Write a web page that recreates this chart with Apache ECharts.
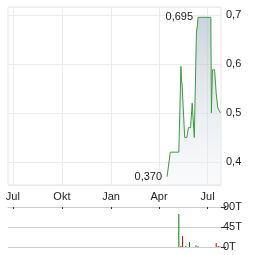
<!DOCTYPE html>
<html><head><meta charset="utf-8">
<script src="https://cdn.jsdelivr.net/npm/echarts@6/dist/echarts.min.js"></script>
<style>html,body{margin:0;padding:0;background:#fff}#c{width:264px;height:255px}</style>
</head><body><div id="c"></div>
<script>
const priceDates = ['2025-04-16','2025-04-18','2025-04-22','2025-05-08','2025-05-12','2025-05-13','2025-05-14','2025-05-19','2025-05-23','2025-05-26','2025-05-30','2025-06-02','2025-06-05','2025-06-06','2025-06-10','2025-06-12','2025-06-13','2025-07-07','2025-07-08','2025-07-10','2025-07-14','2025-07-17','2025-07-20','2025-07-23','2025-07-25'];
const priceValues = [0.37,0.37,0.42,0.42,0.595,0.565,0.56,0.45,0.45,0.47,0.47,0.52,0.52,0.45,0.665,0.68,0.695,0.695,0.50,0.588,0.588,0.54,0.51,0.51,0.50];
const volDates = ['2025-05-08','2025-05-12','2025-05-15','2025-05-21','2025-05-28','2025-06-09','2025-06-13','2025-07-17','2025-07-21','2025-07-24'];
const volValues = [74000,2000,25000,2000,11000,4000,2000,9000,2000,1000];
const volUp = [true,false,false,true,true,true,true,false,false,false];
const tickDates = ['2024-07-01','2024-10-01','2025-01-01','2025-04-01','2025-07-01'];
const tickLabels = ['Jul','Okt','Jan','Apr','Jul'];
const volTicks = ['0T','45T','90T'];

const xMin = '2024-06-22', xMax = '2025-07-26';
const font = 'Liberation Sans, Arial, sans-serif';
const ts = d => new Date(d + 'T00:00:00Z').getTime();
const tickTs = tickDates.map(ts);
const chart = echarts.init(document.getElementById('c'));
const fmtMonth = v => { const i = tickTs.findIndex(t => Math.abs(t - v) < 43200000); return i >= 0 ? tickLabels[i] : ''; };
chart.setOption({
  animation:false,
  grid:[{left:8,right:43,top:7,height:178,show:true,borderColor:'#e6e6e6',borderWidth:1},
        {left:8,right:43,top:207,height:40}],
  xAxis:[{type:'value',gridIndex:0,min:ts(xMin),max:ts(xMax),
          axisLine:{show:false,onZero:false},axisTick:{show:false,customValues:tickTs},
          splitLine:{show:true,lineStyle:{color:'#ebebeb'}},
          axisLabel:{customValues:tickTs,formatter:fmtMonth,color:'#222',fontSize:11,fontFamily:font,margin:6,hideOverlap:false}},
         {type:'value',gridIndex:1,min:ts(xMin),max:ts(xMax),position:'top',
          axisLine:{show:true,onZero:false,lineStyle:{color:'#cccccc'}},
          axisTick:{show:true,inside:true,length:2,lineStyle:{color:'#333'},customValues:tickTs},
          splitLine:{show:false},axisLabel:{show:false,customValues:tickTs}}],
  yAxis:[{type:'value',gridIndex:0,position:'right',min:0.353,max:0.716,splitNumber:4,
          axisLine:{show:false},axisTick:{show:false},
          splitLine:{lineStyle:{color:'#ebebeb'}},
          axisLabel:{margin:5,color:'#222',fontSize:11,fontFamily:font,
            formatter:v=>Math.abs(v*10-Math.round(v*10))>1e-6?'':(Math.round(v*10)/10).toFixed(1).replace('.',','),
            showMinLabel:true,showMaxLabel:true}},
         {type:'value',gridIndex:1,position:'right',min:0,max:90000,interval:45000,
          axisLine:{show:false},axisTick:{show:true,length:5,lineStyle:{color:'#333'}},
          splitLine:{lineStyle:{color:'#cccccc'}},
          axisLabel:{margin:2,color:'#222',fontSize:11,fontFamily:font,formatter:v=>volTicks[Math.round(v/45000)]}}],
  series:[{type:'line',xAxisIndex:0,yAxisIndex:0,data:priceDates.map((d,i)=>[ts(d),priceValues[i]]),
           symbol:'none',lineStyle:{color:'#3d9a3d',width:1},
           areaStyle:{color:new echarts.graphic.LinearGradient(0,0,0,1,[{offset:0,color:'rgba(165,183,198,0.85)'},{offset:1,color:'rgba(235,239,243,0.4)'}])},
           markPoint:{symbol:'circle',symbolSize:0,
             label:{show:true,position:'left',distance:5,color:'#222',fontSize:11,fontFamily:font,
                    formatter:p=>p.value.toFixed(3).replace('.',',')},
             data:[{type:'max'},{type:'min'}]}},
          {type:'bar',xAxisIndex:1,yAxisIndex:1,barWidth:1,
           data:volDates.map((d,i)=>({value:[ts(d),volValues[i]],itemStyle:{color:volUp[i]?'#008000':'#cc0000'}}))}]
});
</script></body></html>
